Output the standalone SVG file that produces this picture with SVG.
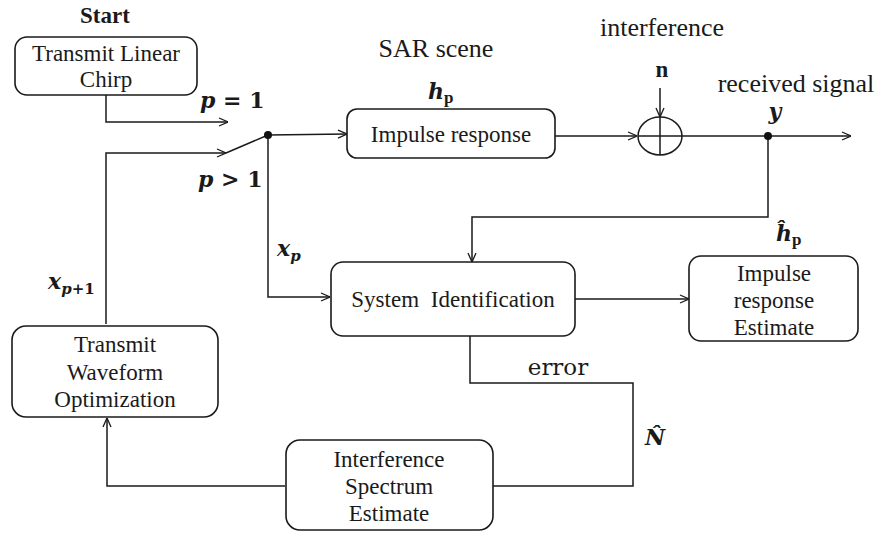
<svg xmlns="http://www.w3.org/2000/svg" width="879" height="533" viewBox="0 0 879 533">
<defs>
<style>
.box{fill:#fff;stroke:#1a1a1a;stroke-width:1.6}
.t{font-family:"Liberation Serif","Times New Roman",serif;font-size:23px;fill:#1a1a1a;text-anchor:middle}
.big{font-size:26px}
.m{font-family:"DejaVu Serif",serif;font-weight:bold;font-style:italic;font-size:22px;fill:#1a1a1a}
.up{font-style:normal}
.c{fill:none;stroke:#1a1a1a;stroke-width:1.5}
.a{marker-end:url(#arr)}
.dot{fill:#111}
</style>
<marker id="arr" viewBox="0 0 10 10" refX="10" refY="5" markerWidth="10" markerHeight="10" markerUnits="userSpaceOnUse" orient="auto">
<path d="M1,1 L10,5 L1,9" fill="none" stroke="#1a1a1a" stroke-width="1.3"/>
</marker>
</defs>
<rect width="879" height="533" fill="#fff"/>

<g id="connectors">
<polyline class="c a" points="106,95 106,122 228,122"/>
<polyline class="c a" points="106,324 106,153 226,153"/>
<line class="c" x1="226" y1="153" x2="268" y2="135"/>
<line class="c a" x1="268" y1="135" x2="347" y2="134"/>
<polyline class="c a" points="268,135 268,297 330,297"/>
<line class="c a" x1="555" y1="136" x2="637" y2="136"/>
<line class="c a" x1="660" y1="88" x2="660" y2="117"/>
<line class="c a" x1="681" y1="136" x2="851" y2="136"/>
<polyline class="c a" points="768,136 768,217 472,217 472,262"/>
<line class="c a" x1="575" y1="299" x2="689" y2="299"/>
<polyline class="c" points="470,336 470,383 633,383 633,486 493,486"/>
<polyline class="c a" points="285,486 107,486 107,418"/>
<circle class="dot" cx="268" cy="135" r="4"/>
<circle class="dot" cx="768" cy="136" r="4"/>
</g>

<g id="chirp">
<rect class="box" x="15" y="37" width="182" height="58" rx="12"/>
<text class="t" x="106" y="61">Transmit Linear</text>
<text class="t" x="106" y="87">Chirp</text>
</g>

<g id="impulse">
<rect class="box" x="347" y="109" width="208" height="49" rx="10"/>
<text class="t" x="451" y="142">Impulse response</text>
</g>

<g id="sum">
<ellipse cx="660" cy="136" rx="22" ry="19" fill="#fff" stroke="#1a1a1a" stroke-width="1.5"/>
<line class="c" x1="660" y1="117" x2="660" y2="155"/>
<line class="c" x1="638" y1="136" x2="682" y2="136"/>
</g>

<g id="sysid">
<rect class="box" x="331" y="262" width="244" height="74" rx="12"/>
<text class="t" x="453" y="307" word-spacing="6">System Identification</text>
</g>

<g id="estimate">
<rect class="box" x="689" y="256" width="169" height="85" rx="12"/>
<text class="t" x="774" y="281">Impulse</text>
<text class="t" x="774" y="308">response</text>
<text class="t" x="774" y="335">Estimate</text>
</g>

<g id="waveform">
<rect class="box" x="12" y="326" width="206" height="91" rx="14"/>
<text class="t" x="115" y="352">Transmit</text>
<text class="t" x="115" y="380">Waveform</text>
<text class="t" x="115" y="407">Optimization</text>
</g>

<g id="spectrum">
<rect class="box" x="286" y="440" width="207" height="90" rx="14"/>
<text class="t" x="389" y="467">Interference</text>
<text class="t" x="389" y="494">Spectrum</text>
<text class="t" x="389" y="521">Estimate</text>
</g>

<g id="labels">
<text class="t" x="105" y="23" font-weight="bold" font-size="26">Start</text>
<text class="t big" x="436" y="57">SAR scene</text>
<text class="t big" x="662" y="36">interference</text>
<text class="t big" x="796" y="92">received signal</text>
<text class="t" x="662" y="77" font-weight="bold" font-size="22">n</text>
<text class="m" x="428" y="99">h<tspan class="up" font-family="Liberation Serif" font-size="17" dy="4">p</tspan></text>
<text class="m" x="775" y="119" text-anchor="middle">y</text>
<text class="m" x="200" y="108">p<tspan class="up"> = 1</tspan></text>
<text class="m" x="198" y="187">p<tspan class="up"> &gt; 1</tspan></text>
<text class="m" x="277" y="256">x<tspan font-size="15" dy="5">p</tspan></text>
<text class="m" x="48" y="289">x<tspan font-size="15" dy="5">p<tspan class="up">+1</tspan></tspan></text>
<text class="m" x="776" y="241">ĥ<tspan class="up" font-family="Liberation Serif" font-size="17" dy="4">p</tspan></text>
<text x="558" y="375" font-family="DejaVu Serif,serif" font-size="23" fill="#1a1a1a" text-anchor="middle">error</text>
<text class="m" x="645" y="445">N̂</text>
</g>
</svg>
